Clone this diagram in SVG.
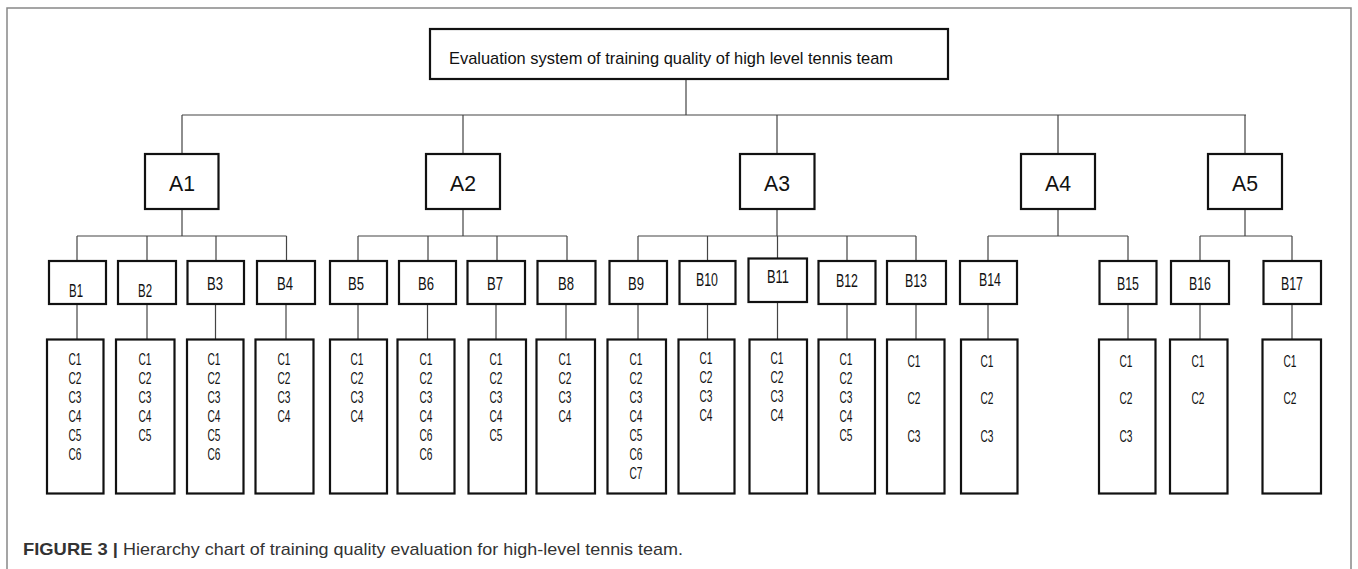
<svg xmlns="http://www.w3.org/2000/svg" width="1358" height="569" viewBox="0 0 1358 569">
<style>
.bx{fill:#fff;stroke:#111;stroke-width:2.2}
.ln{stroke:#444;stroke-width:1.2;fill:none}
.fr{stroke:#888;stroke-width:1.5;fill:none}
.t{font-family:"Liberation Sans",Arial,sans-serif;fill:#111;text-anchor:middle}
.rt{font-family:"Liberation Sans",Arial,sans-serif;fill:#111;font-size:17px}
.a{font-size:22px}
.b{font-size:19px}
.c{font-size:16.5px}
.cap{font-family:"Liberation Sans",Arial,sans-serif;font-size:17px;fill:#333}
</style>
<rect width="1358" height="569" fill="#fff"/>
<path class="fr" d="M7,569 V8 H1351 V569"/>

<g id="connectors">
<path class="ln" d="M686,79 V115 M182,115 H1246 M182,115 V154 M463,115 V154 M777,115 V154 M1058,115 V154 M1245,115 V154"/>
<path class="ln" d="M182,209 V236 M77,236 H286.5 M77,236 V261 M147,236 V261 M216,236 V261 M286.5,236 V261"/>
<path class="ln" d="M463,209 V236 M358,236 H567 M358,236 V261 M428,236 V261 M497,236 V261 M567,236 V261"/>
<path class="ln" d="M777,209 V236 M638,236 H916 M638,236 V261 M707.5,236 V261 M777.5,236 V258 M847,236 V261 M916,236 V261"/>
<path class="ln" d="M1058,209 V236 M988,236 H1128 M988,236 V261 M1128,236 V261"/>
<path class="ln" d="M1245,209 V236 M1200,236 H1292 M1200,236 V261 M1292,236 V261"/>
<path class="ln" d="M77,304 V339 M147,304 V339 M215.5,304 V339 M286,304 V339 M358,304 V339 M427.5,304 V339 M496,304 V339 M566,304 V339 M638,304 V339 M707.5,304 V339 M777.5,302 V339 M847,304 V339 M916,304 V339 M988,304 V339 M1128,304 V339 M1200,304 V339 M1292,304 V339"/>
</g>

<g id="root">
<rect class="bx" x="430" y="29" width="518" height="50"/>
<text class="rt" x="449" y="64" textLength="444" lengthAdjust="spacingAndGlyphs">Evaluation system of training quality of high level tennis team</text>
</g>

<g id="A1"><rect class="bx" x="145" y="154" width="73.5" height="55"/><text class="t a" x="182" y="190.5" textLength="26" lengthAdjust="spacingAndGlyphs">A1</text></g>
<g id="A2"><rect class="bx" x="426" y="154" width="74" height="55"/><text class="t a" x="463" y="190.5" textLength="26" lengthAdjust="spacingAndGlyphs">A2</text></g>
<g id="A3"><rect class="bx" x="740" y="154" width="74.5" height="55"/><text class="t a" x="777" y="190.5" textLength="26" lengthAdjust="spacingAndGlyphs">A3</text></g>
<g id="A4"><rect class="bx" x="1021" y="154" width="74" height="55"/><text class="t a" x="1058" y="190.5" textLength="26" lengthAdjust="spacingAndGlyphs">A4</text></g>
<g id="A5"><rect class="bx" x="1208" y="154" width="74" height="55"/><text class="t a" x="1245" y="190.5" textLength="26" lengthAdjust="spacingAndGlyphs">A5</text></g>

<g id="B1"><rect class="bx" x="49" y="261" width="57" height="43"/><text class="t b" x="76" y="297" textLength="14" lengthAdjust="spacingAndGlyphs">B1</text></g>
<g id="B2"><rect class="bx" x="118" y="261" width="58" height="43"/><text class="t b" x="145" y="297" textLength="14" lengthAdjust="spacingAndGlyphs">B2</text></g>
<g id="B3"><rect class="bx" x="187.5" y="261" width="56.5" height="43"/><text class="t b" x="215" y="289.5" textLength="16" lengthAdjust="spacingAndGlyphs">B3</text></g>
<g id="B4"><rect class="bx" x="257" y="261" width="58" height="43"/><text class="t b" x="285" y="289.5" textLength="16" lengthAdjust="spacingAndGlyphs">B4</text></g>
<g id="B5"><rect class="bx" x="330" y="261" width="57" height="43"/><text class="t b" x="356" y="289.5" textLength="16" lengthAdjust="spacingAndGlyphs">B5</text></g>
<g id="B6"><rect class="bx" x="399" y="261" width="57" height="43"/><text class="t b" x="426" y="289.5" textLength="16" lengthAdjust="spacingAndGlyphs">B6</text></g>
<g id="B7"><rect class="bx" x="467.5" y="261" width="57.5" height="43"/><text class="t b" x="495" y="289.5" textLength="16" lengthAdjust="spacingAndGlyphs">B7</text></g>
<g id="B8"><rect class="bx" x="537.5" y="261" width="58" height="43"/><text class="t b" x="566" y="290" textLength="16" lengthAdjust="spacingAndGlyphs">B8</text></g>
<g id="B9"><rect class="bx" x="609.5" y="261" width="57.5" height="43"/><text class="t b" x="636" y="290" textLength="16" lengthAdjust="spacingAndGlyphs">B9</text></g>
<g id="B10"><rect class="bx" x="679.5" y="261" width="56" height="43"/><text class="t b" x="707" y="286" textLength="22" lengthAdjust="spacingAndGlyphs">B10</text></g>
<g id="B11"><rect class="bx" x="748.5" y="258.5" width="58.5" height="43.5"/><text class="t b" x="778" y="283" textLength="22" lengthAdjust="spacingAndGlyphs">B11</text></g>
<g id="B12"><rect class="bx" x="818.5" y="261" width="57" height="43"/><text class="t b" x="847" y="287" textLength="22" lengthAdjust="spacingAndGlyphs">B12</text></g>
<g id="B13"><rect class="bx" x="887" y="261" width="59" height="43"/><text class="t b" x="916" y="287" textLength="22" lengthAdjust="spacingAndGlyphs">B13</text></g>
<g id="B14"><rect class="bx" x="960" y="261" width="57" height="43"/><text class="t b" x="990" y="286" textLength="22" lengthAdjust="spacingAndGlyphs">B14</text></g>
<g id="B15"><rect class="bx" x="1099.5" y="261" width="57" height="43"/><text class="t b" x="1128" y="289.5" textLength="22" lengthAdjust="spacingAndGlyphs">B15</text></g>
<g id="B16"><rect class="bx" x="1171" y="261" width="58" height="43"/><text class="t b" x="1200" y="289.5" textLength="22" lengthAdjust="spacingAndGlyphs">B16</text></g>
<g id="B17"><rect class="bx" x="1263.5" y="261" width="57.5" height="43"/><text class="t b" x="1292" y="289.5" textLength="22" lengthAdjust="spacingAndGlyphs">B17</text></g>

<g id="C-B1"><rect class="bx" x="47" y="339.5" width="56.5" height="154"/>
<text class="t c" x="75" y="365" textLength="13" lengthAdjust="spacingAndGlyphs">C1</text>
<text class="t c" x="75" y="384" textLength="13" lengthAdjust="spacingAndGlyphs">C2</text>
<text class="t c" x="75" y="403" textLength="13" lengthAdjust="spacingAndGlyphs">C3</text>
<text class="t c" x="75" y="422" textLength="13" lengthAdjust="spacingAndGlyphs">C4</text>
<text class="t c" x="75" y="441" textLength="13" lengthAdjust="spacingAndGlyphs">C5</text>
<text class="t c" x="75" y="460" textLength="13" lengthAdjust="spacingAndGlyphs">C6</text></g>
<g id="C-B2"><rect class="bx" x="116" y="339.5" width="58.5" height="154"/>
<text class="t c" x="145" y="365" textLength="13" lengthAdjust="spacingAndGlyphs">C1</text>
<text class="t c" x="145" y="384" textLength="13" lengthAdjust="spacingAndGlyphs">C2</text>
<text class="t c" x="145" y="403" textLength="13" lengthAdjust="spacingAndGlyphs">C3</text>
<text class="t c" x="145" y="422" textLength="13" lengthAdjust="spacingAndGlyphs">C4</text>
<text class="t c" x="145" y="441" textLength="13" lengthAdjust="spacingAndGlyphs">C5</text></g>
<g id="C-B3"><rect class="bx" x="187" y="339.5" width="56.5" height="154"/>
<text class="t c" x="214" y="365" textLength="13" lengthAdjust="spacingAndGlyphs">C1</text>
<text class="t c" x="214" y="384" textLength="13" lengthAdjust="spacingAndGlyphs">C2</text>
<text class="t c" x="214" y="403" textLength="13" lengthAdjust="spacingAndGlyphs">C3</text>
<text class="t c" x="214" y="422" textLength="13" lengthAdjust="spacingAndGlyphs">C4</text>
<text class="t c" x="214" y="441" textLength="13" lengthAdjust="spacingAndGlyphs">C5</text>
<text class="t c" x="214" y="460" textLength="13" lengthAdjust="spacingAndGlyphs">C6</text></g>
<g id="C-B4"><rect class="bx" x="255.5" y="339.5" width="58" height="154"/>
<text class="t c" x="284" y="365" textLength="13" lengthAdjust="spacingAndGlyphs">C1</text>
<text class="t c" x="284" y="384" textLength="13" lengthAdjust="spacingAndGlyphs">C2</text>
<text class="t c" x="284" y="403" textLength="13" lengthAdjust="spacingAndGlyphs">C3</text>
<text class="t c" x="284" y="422" textLength="13" lengthAdjust="spacingAndGlyphs">C4</text></g>
<g id="C-B5"><rect class="bx" x="330" y="339.5" width="57" height="154"/>
<text class="t c" x="357" y="365" textLength="13" lengthAdjust="spacingAndGlyphs">C1</text>
<text class="t c" x="357" y="384" textLength="13" lengthAdjust="spacingAndGlyphs">C2</text>
<text class="t c" x="357" y="403" textLength="13" lengthAdjust="spacingAndGlyphs">C3</text>
<text class="t c" x="357" y="422" textLength="13" lengthAdjust="spacingAndGlyphs">C4</text></g>
<g id="C-B6"><rect class="bx" x="397.5" y="339.5" width="57" height="154"/>
<text class="t c" x="426" y="365" textLength="13" lengthAdjust="spacingAndGlyphs">C1</text>
<text class="t c" x="426" y="384" textLength="13" lengthAdjust="spacingAndGlyphs">C2</text>
<text class="t c" x="426" y="403" textLength="13" lengthAdjust="spacingAndGlyphs">C3</text>
<text class="t c" x="426" y="422" textLength="13" lengthAdjust="spacingAndGlyphs">C4</text>
<text class="t c" x="426" y="441" textLength="13" lengthAdjust="spacingAndGlyphs">C6</text>
<text class="t c" x="426" y="460" textLength="13" lengthAdjust="spacingAndGlyphs">C6</text></g>
<g id="C-B7"><rect class="bx" x="468.5" y="339.5" width="57.5" height="154"/>
<text class="t c" x="496" y="365" textLength="13" lengthAdjust="spacingAndGlyphs">C1</text>
<text class="t c" x="496" y="384" textLength="13" lengthAdjust="spacingAndGlyphs">C2</text>
<text class="t c" x="496" y="403" textLength="13" lengthAdjust="spacingAndGlyphs">C3</text>
<text class="t c" x="496" y="422" textLength="13" lengthAdjust="spacingAndGlyphs">C4</text>
<text class="t c" x="496" y="441" textLength="13" lengthAdjust="spacingAndGlyphs">C5</text></g>
<g id="C-B8"><rect class="bx" x="536.5" y="339.5" width="58.5" height="154"/>
<text class="t c" x="565" y="365" textLength="13" lengthAdjust="spacingAndGlyphs">C1</text>
<text class="t c" x="565" y="384" textLength="13" lengthAdjust="spacingAndGlyphs">C2</text>
<text class="t c" x="565" y="403" textLength="13" lengthAdjust="spacingAndGlyphs">C3</text>
<text class="t c" x="565" y="422" textLength="13" lengthAdjust="spacingAndGlyphs">C4</text></g>
<g id="C-B9"><rect class="bx" x="607.5" y="339.5" width="58.5" height="154"/>
<text class="t c" x="636" y="365" textLength="13" lengthAdjust="spacingAndGlyphs">C1</text>
<text class="t c" x="636" y="384" textLength="13" lengthAdjust="spacingAndGlyphs">C2</text>
<text class="t c" x="636" y="403" textLength="13" lengthAdjust="spacingAndGlyphs">C3</text>
<text class="t c" x="636" y="422" textLength="13" lengthAdjust="spacingAndGlyphs">C4</text>
<text class="t c" x="636" y="441" textLength="13" lengthAdjust="spacingAndGlyphs">C5</text>
<text class="t c" x="636" y="460" textLength="13" lengthAdjust="spacingAndGlyphs">C6</text>
<text class="t c" x="636" y="479" textLength="13" lengthAdjust="spacingAndGlyphs">C7</text></g>
<g id="C-B10"><rect class="bx" x="678.5" y="339.5" width="56" height="154"/>
<text class="t c" x="706" y="363.5" textLength="13" lengthAdjust="spacingAndGlyphs">C1</text>
<text class="t c" x="706" y="382.5" textLength="13" lengthAdjust="spacingAndGlyphs">C2</text>
<text class="t c" x="706" y="401.5" textLength="13" lengthAdjust="spacingAndGlyphs">C3</text>
<text class="t c" x="706" y="421" textLength="13" lengthAdjust="spacingAndGlyphs">C4</text></g>
<g id="C-B11"><rect class="bx" x="749.5" y="339.5" width="57.5" height="154"/>
<text class="t c" x="777" y="363.5" textLength="13" lengthAdjust="spacingAndGlyphs">C1</text>
<text class="t c" x="777" y="382.5" textLength="13" lengthAdjust="spacingAndGlyphs">C2</text>
<text class="t c" x="777" y="401.5" textLength="13" lengthAdjust="spacingAndGlyphs">C3</text>
<text class="t c" x="777" y="421" textLength="13" lengthAdjust="spacingAndGlyphs">C4</text></g>
<g id="C-B12"><rect class="bx" x="818.5" y="339.5" width="56.5" height="154"/>
<text class="t c" x="846" y="365" textLength="13" lengthAdjust="spacingAndGlyphs">C1</text>
<text class="t c" x="846" y="384" textLength="13" lengthAdjust="spacingAndGlyphs">C2</text>
<text class="t c" x="846" y="403" textLength="13" lengthAdjust="spacingAndGlyphs">C3</text>
<text class="t c" x="846" y="422" textLength="13" lengthAdjust="spacingAndGlyphs">C4</text>
<text class="t c" x="846" y="441" textLength="13" lengthAdjust="spacingAndGlyphs">C5</text></g>
<g id="C-B13"><rect class="bx" x="887" y="339.5" width="57.5" height="154"/>
<text class="t c" x="914" y="366.5" textLength="13" lengthAdjust="spacingAndGlyphs">C1</text>
<text class="t c" x="914" y="404" textLength="13" lengthAdjust="spacingAndGlyphs">C2</text>
<text class="t c" x="914" y="441.5" textLength="13" lengthAdjust="spacingAndGlyphs">C3</text></g>
<g id="C-B14"><rect class="bx" x="961" y="339.5" width="56.5" height="154"/>
<text class="t c" x="987" y="366.5" textLength="13" lengthAdjust="spacingAndGlyphs">C1</text>
<text class="t c" x="987" y="404" textLength="13" lengthAdjust="spacingAndGlyphs">C2</text>
<text class="t c" x="987" y="441.5" textLength="13" lengthAdjust="spacingAndGlyphs">C3</text></g>
<g id="C-B15"><rect class="bx" x="1099" y="339.5" width="56.5" height="154"/>
<text class="t c" x="1126" y="366.5" textLength="13" lengthAdjust="spacingAndGlyphs">C1</text>
<text class="t c" x="1126" y="404" textLength="13" lengthAdjust="spacingAndGlyphs">C2</text>
<text class="t c" x="1126" y="441.5" textLength="13" lengthAdjust="spacingAndGlyphs">C3</text></g>
<g id="C-B16"><rect class="bx" x="1170" y="339.5" width="57.5" height="154"/>
<text class="t c" x="1198" y="366.5" textLength="13" lengthAdjust="spacingAndGlyphs">C1</text>
<text class="t c" x="1198" y="404" textLength="13" lengthAdjust="spacingAndGlyphs">C2</text></g>
<g id="C-B17"><rect class="bx" x="1262.5" y="339.5" width="58.5" height="154"/>
<text class="t c" x="1290" y="366.5" textLength="13" lengthAdjust="spacingAndGlyphs">C1</text>
<text class="t c" x="1290" y="404" textLength="13" lengthAdjust="spacingAndGlyphs">C2</text></g>

<g id="caption">
<text class="cap" x="23" y="555" font-weight="bold" textLength="95" lengthAdjust="spacingAndGlyphs">FIGURE 3 |</text>
<text class="cap" x="123" y="555" textLength="560" lengthAdjust="spacingAndGlyphs">Hierarchy chart of training quality evaluation for high-level tennis team.</text>
</g>
</svg>
